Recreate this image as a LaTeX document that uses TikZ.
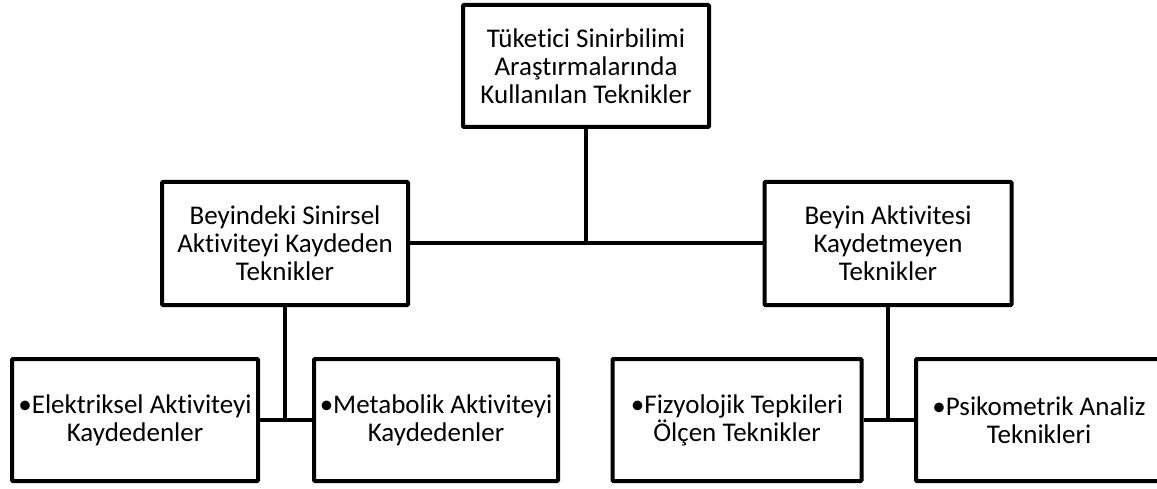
\documentclass[tikz,border=0pt]{standalone}
\usepackage{fontspec}
\setmainfont{Carlito}[Ligatures=NoCommon,RawFeature={-liga;-dlig}]
\begin{document}
\begin{tikzpicture}[x=1pt,y=-1pt,
  box/.style={draw=black, line width=4pt, fill=white, inner sep=0pt, align=center,
    font=\fontsize{27}{28}\selectfont, rounded corners=1pt,
    minimum height=123pt},
  conn/.style={draw=black, line width=4pt}]
\useasboundingbox (0,0) rectangle (1157,489);
\begin{scope}
\clip (0,0) rectangle (1157,489);
\node[box, minimum width=246pt, minimum height=122pt] (top) at (586,66) {Tüketici Sinirbilimi\\Araştırmalarında\\Kullanılan Teknikler};
\node[box, minimum width=246pt] (lm) at (285,243.5) {Beyindeki Sinirsel\\Aktiviteyi Kaydeden\\Teknikler};
\node[box, minimum width=247pt] (rm) at (888,243.5) {Beyin Aktivitesi\\Kaydetmeyen\\Teknikler};
\node[box, minimum width=246pt, minimum height=122pt] (elek) at (135,420) {•Elektriksel Aktiviteyi\\Kaydedenler};
\node[box, minimum width=244pt, minimum height=122pt] (meta) at (436,420) {•Metabolik Aktiviteyi\\Kaydedenler};
\node[box, minimum width=249pt, minimum height=122pt] (fiz) at (737,420) {•Fizyolojik Tepkileri\\Ölçen Teknikler};
\node[box, minimum width=246pt, minimum height=122pt] (psi) at (1039,420) {•Psikometrik Analiz\\Teknikleri};
\draw[conn] (lm.east) -- (rm.west);
\draw[conn] (top.south) -- (top.south |- lm.east);
\draw[conn] (elek.east) -- (meta.west);
\draw[conn] (lm.south) -- (lm.south |- elek.east);
\draw[conn] (fiz.east) -- (psi.west);
\draw[conn] (rm.south) -- (rm.south |- fiz.east);
\end{scope}
\end{tikzpicture}
\end{document}
